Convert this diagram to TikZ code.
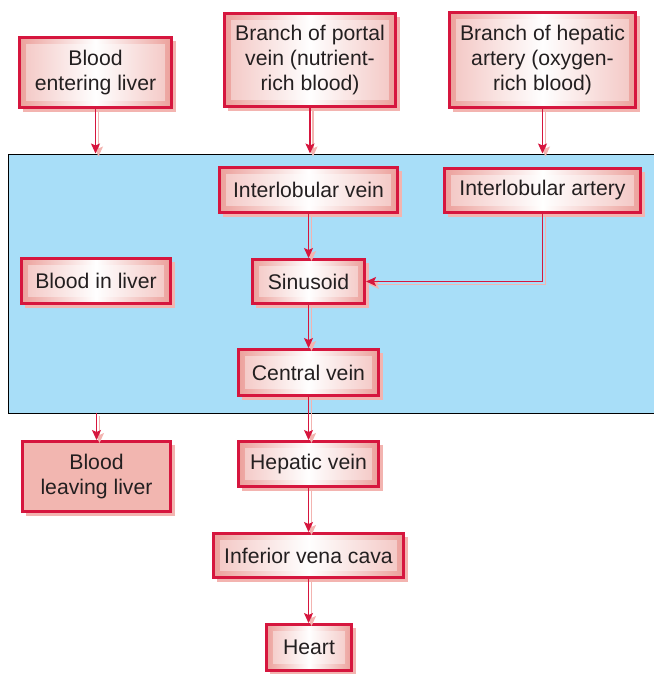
\documentclass[tikz,border=0pt]{standalone}
\usepackage{fontspec}
\setmainfont{Liberation Sans}
\usetikzlibrary{arrows.meta,shadows}

\definecolor{crimson}{RGB}{214,22,62}
\definecolor{boxedge}{RGB}{236,160,155}
\definecolor{shadowpink}{RGB}{243,180,176}
\definecolor{leavepink}{RGB}{242,182,176}
\definecolor{liverblue}{RGB}{168,222,248}
\definecolor{textgray}{RGB}{35,31,32}

\tikzset{
  boxbase/.style={rectangle, draw=crimson, line width=2.7pt, inner sep=0pt,
    align=center, text=textgray, font=\fontsize{21.2}{25.3}\selectfont,
    drop shadow={shadow xshift=4pt, shadow yshift=-4pt, fill=shadowpink, opacity=1}},
  flowbox/.style={boxbase,
    left color=boxedge, right color=boxedge, middle color=white,
    path picture={\fill[white, opacity=0.4]
      ([shift={(7pt,-7pt)}]path picture bounding box.north west) rectangle
      ([shift={(-7pt,7pt)}]path picture bounding box.south east);}},
  plainbox/.style={boxbase, fill=leavepink},
  flow/.style={draw=crimson, line width=1.3pt,
    -{Stealth[length=10pt, width=9pt, inset=2pt]},
    preaction={draw=shadowpink, line width=1.3pt,
      -{Stealth[length=10pt, width=9pt, inset=2pt]},
      transform canvas={shift={(3pt,-3pt)}}}},
  liverzone/.style={rectangle, draw=black, line width=0.8pt, fill=liverblue,
    inner sep=0pt, anchor=north west}
}

\begin{document}
\begin{tikzpicture}[x=1pt, y=-1pt]
\useasboundingbox (0,0) rectangle (653,674);

% liver region
\node[liverzone, minimum width=660pt, minimum height=259pt] (liver) at (8,153.5) {};

% blood entering the liver
\node[flowbox, minimum width=152.3pt, minimum height=70.3pt] (entering) at (95.5,72.5) {Blood\\entering liver};
\node[flowbox, minimum width=171.3pt, minimum height=93.3pt] (portal) at (310,60) {Branch of portal\\vein (nutrient-\\rich blood)};
\node[flowbox, minimum width=186.3pt, minimum height=95.3pt] (hepatic) at (542.5,60) {Branch of hepatic\\artery (oxygen-\\rich blood)};

% inside the liver
\node[flowbox, minimum width=178.3pt, minimum height=45.3pt] (ilvein) at (308.5,190) {Interlobular vein};
\node[flowbox, minimum width=196.3pt, minimum height=44.3pt] (ilartery) at (542.5,190.5) {Interlobular artery};
\node[flowbox, minimum width=112.3pt, minimum height=44.3pt] (sinusoid) at (308.5,281.5) {Sinusoid};
\node[flowbox, minimum width=149.3pt, minimum height=45.3pt] (inliver) at (96,281) {Blood in liver};
\node[flowbox, minimum width=140.3pt, minimum height=46.3pt] (central) at (308.5,372.5) {Central vein};

% blood leaving the liver
\node[plainbox, minimum width=148.3pt, minimum height=70.3pt] (leaving) at (96.5,476.5) {Blood\\leaving liver};
\node[flowbox, minimum width=140.3pt, minimum height=45.3pt] (hepvein) at (308.5,464) {Hepatic vein};
\node[flowbox, minimum width=190.3pt, minimum height=44.3pt] (ivc) at (308.5,555.5) {Inferior vena cava};
\node[flowbox, minimum width=85.3pt, minimum height=46.3pt] (heart) at (309,647.5) {Heart};

% connectors
\draw[flow] (entering.south) -- (entering.south |- liver.north);
\draw[flow] (portal.south) -- (portal.south |- liver.north);
\draw[flow] (hepatic.south) -- (hepatic.south |- liver.north);
\draw[flow] (ilvein.south) -- (ilvein.south |- sinusoid.north);
\draw[flow] (ilartery.south) |- (sinusoid.east);
\draw[flow] (sinusoid.south) -- (sinusoid.south |- central.north);
\draw[flow] (central.south) -- (central.south |- hepvein.north);
\draw[flow] (liver.south -| leaving.north) -- (leaving.north);
\draw[flow] (hepvein.south) -- (hepvein.south |- ivc.north);
\draw[flow] (ivc.south) -- (ivc.south |- heart.north);
\end{tikzpicture}
\end{document}
